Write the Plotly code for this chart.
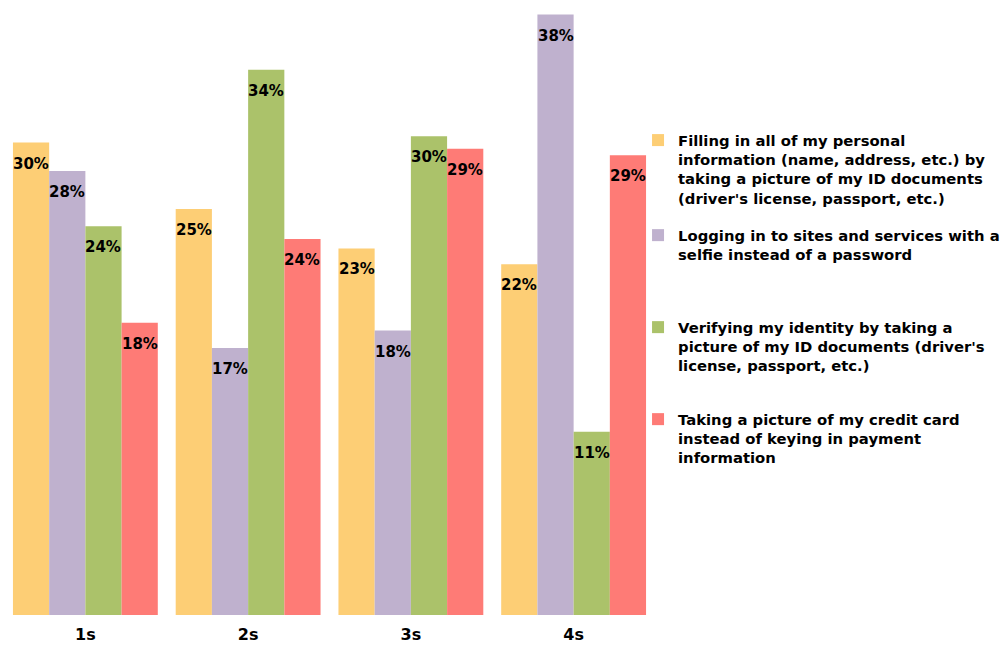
import plotly.graph_objects as go

categories = ["1s", "2s", "3s", "4s"]

series_names = [
    "Filling in all of my personal<br>information (name, address, etc.) by<br>taking a picture of my ID documents<br>(driver's license, passport, etc.)",
    "Logging in to sites and services with a<br>selfie instead of a password",
    "Verifying my identity by taking a<br>picture of my ID documents (driver's<br>license, passport, etc.)",
    "Taking a picture of my credit card<br>instead of keying in payment<br>information",
]

filling_values = [29.9, 25.7, 23.2, 22.2]
selfie_values = [28.1, 16.9, 18.0, 38.0]
verify_values = [24.6, 34.5, 30.3, 11.6]
credit_values = [18.5, 23.8, 29.5, 29.1]

filling_labels = ["30%", "25%", "23%", "22%"]
selfie_labels = ["28%", "17%", "18%", "38%"]
verify_labels = ["24%", "34%", "30%", "11%"]
credit_labels = ["18%", "24%", "29%", "29%"]

values = [filling_values, selfie_values, verify_values, credit_values]
labels = [filling_labels, selfie_labels, verify_labels, credit_labels]
colors = ["#FDCE75", "#BFB1CE", "#ABC26A", "#FE7B76"]

legend_ids = ["legend", "legend2", "legend3", "legend4"]
# legend tops, as fractions of the container height (from bottom)
legend_y = [0.8084, 0.6615, 0.5193, 0.3771]

BARGAP = 0.11
FONT = "DejaVu Sans"

fig = go.Figure()
for i, (name, vals, col) in enumerate(zip(series_names, values, colors)):
    fig.add_trace(go.Bar(
        x=categories, y=vals, name=name,
        marker=dict(color=col, line=dict(width=0)),
        legend=legend_ids[i],
        hoverinfo="skip",
    ))

# data labels inside bar tops
n = len(values)
bw = (1 - BARGAP) / n
annotations = []
for i in range(n):
    off = (i - (n - 1) / 2) * bw
    for j, cat in enumerate(categories):
        annotations.append(dict(
            x=j + off, y=values[i][j], xref="x", yref="y",
            text=labels[i][j], showarrow=False,
            yanchor="top", xanchor="center", yshift=-10,
            font=dict(family=FONT, size=15, color="black", weight="bold"),
        ))

layout_legends = {}
for i, lid in enumerate(legend_ids):
    layout_legends[lid] = dict(
        xref="container", yref="container",
        x=0.6374, y=legend_y[i], xanchor="left", yanchor="top",
        bgcolor="rgba(0,0,0,0)", borderwidth=0, valign="top",
        font=dict(family=FONT, size=14.8, color="black", weight="bold"),
    )

fig.update_layout(
    width=1001, height=647,
    margin=dict(l=4, r=346, t=0, b=32, autoexpand=False),
    paper_bgcolor="white", plot_bgcolor="white",
    barmode="group", bargap=BARGAP, bargroupgap=0,
    showlegend=True,
    annotations=annotations,
    xaxis=dict(
        type="category", showgrid=False, zeroline=False, showline=False,
        ticks="outside", ticklen=5, tickcolor="rgba(0,0,0,0)",
        tickfont=dict(family=FONT, size=16, color="black", weight="bold"),
    ),
    yaxis=dict(range=[0, 38.92], visible=False, showgrid=False, zeroline=False),
    **layout_legends,
)

fig.write_html("out.html")
